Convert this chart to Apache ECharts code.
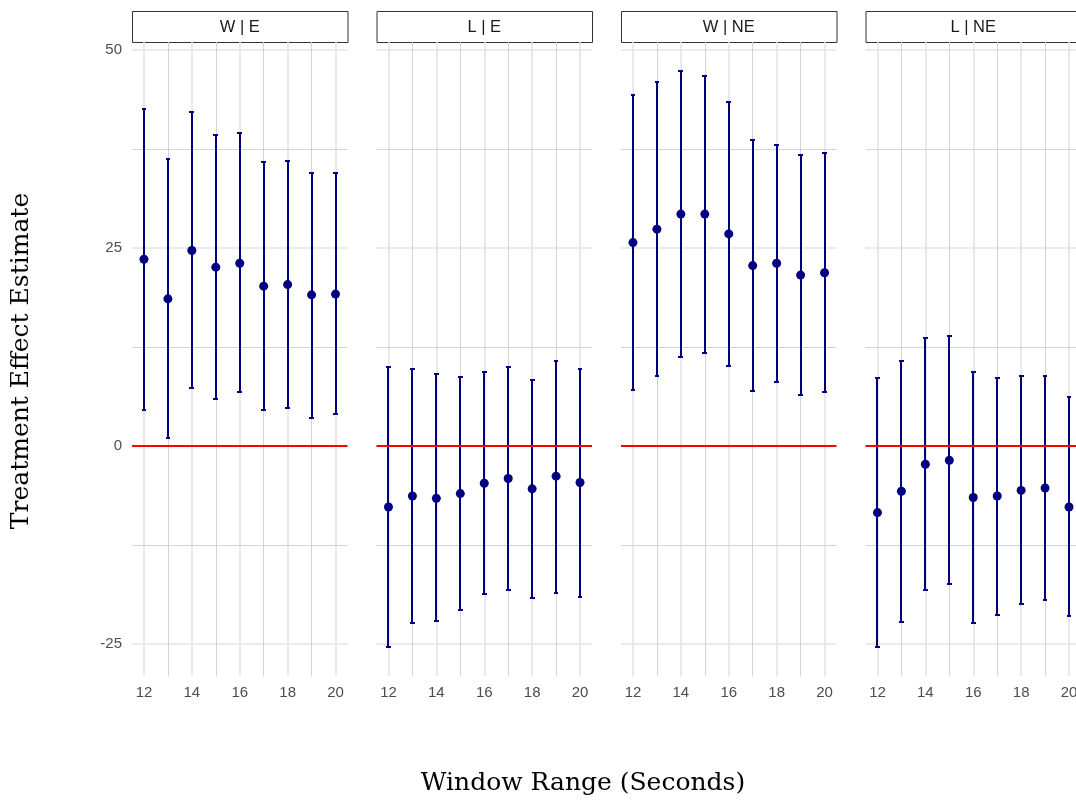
<!DOCTYPE html>
<html>
<head>
<meta charset="utf-8">
<script src="https://cdn.jsdelivr.net/npm/echarts@6/dist/echarts.min.js"></script>
<style>
html,body{margin:0;padding:0;background:#fff;overflow:hidden;width:1076px;height:803px;}
#chart{width:1090px;height:803px;}
</style>
</head>
<body>
<div id="chart"></div>
<script>
// ---- data ----
const windows = [12, 13, 14, 15, 16, 17, 18, 19, 20];
const panelNames = ['W | E', 'L | E', 'W | NE', 'L | NE'];

const estWE = [23.6, 18.6, 24.7, 22.6, 23.1, 20.2, 20.4, 19.1, 19.2];
const loWE  = [4.5, 1.0, 7.4, 6.0, 6.8, 4.5, 4.8, 3.6, 4.0];
const hiWE  = [42.6, 36.3, 42.2, 39.3, 39.5, 35.9, 36.0, 34.5, 34.5];

const estLE = [-7.7, -6.3, -6.6, -6.0, -4.7, -4.1, -5.4, -3.8, -4.6];
const loLE  = [-25.4, -22.4, -22.1, -20.7, -18.7, -18.2, -19.2, -18.5, -19.1];
const hiLE  = [10.0, 9.7, 9.05, 8.75, 9.3, 10.0, 8.4, 10.8, 9.8];

const estWNE = [25.7, 27.4, 29.3, 29.3, 26.8, 22.8, 23.1, 21.6, 21.9];
const loWNE  = [7.1, 8.8, 11.2, 11.8, 10.1, 7.0, 8.1, 6.4, 6.8];
const hiWNE  = [44.3, 46.0, 47.4, 46.8, 43.5, 38.6, 38.0, 36.8, 37.0];

const estLNE = [-8.4, -5.7, -2.3, -1.8, -6.5, -6.3, -5.6, -5.3, -7.7];
const loLNE  = [-25.4, -22.2, -18.2, -17.4, -22.3, -21.3, -20.0, -19.4, -21.5];
const hiLNE  = [8.6, 10.8, 13.6, 13.9, 9.3, 8.6, 8.9, 8.8, 6.2];

const xMajorTicks = [12, 14, 16, 18, 20];
const xMinorTicks = [13, 15, 17, 19];
const yMajorTicks = [-25, 0, 25, 50];
const yMinorTicks = [-12.5, 12.5, 37.5];
const refLine = 0;

const panelData = [
  {est: estWE, lo: loWE, hi: hiWE},
  {est: estLE, lo: loLE, hi: hiLE},
  {est: estWNE, lo: loWNE, hi: hiWNE},
  {est: estLNE, lo: loLNE, hi: hiLNE}
];

// ---- layout / style ----
const PANEL_LEFT0 = 132, PANEL_STEP = 244.5, PANEL_W = 215.5;
const PANEL_TOP = 42, PANEL_H = 634;
const STRIP_TOP = 11, STRIP_H = 31;
const X_MIN = 11.5, X_MAX = 20.5, Y_MIN = -29.04, Y_MAX = 51.04;
const CAP_HALF = 0.1;
const NAVY = '#000080';
const MAJOR_GRID = '#e4e4e4', MINOR_GRID = '#d4d4d4';
const TICK_COLOR = '#4d4d4d';
const SANS = '"Liberation Sans", Arial, sans-serif';
const SERIF = '"DejaVu Serif", serif';

const chart = echarts.init(document.getElementById('chart'), null, {renderer: 'canvas'});

const grids = [], xAxes = [], yAxes = [], series = [], graphics = [];

panelNames.forEach((name, p) => {
  const left = PANEL_LEFT0 + p * PANEL_STEP;
  grids.push({left: left, top: PANEL_TOP, width: PANEL_W, height: PANEL_H, containLabel: false});
  xAxes.push({
    type: 'value', gridIndex: p, min: X_MIN, max: X_MAX,
    axisLine: {show: false},
    axisTick: {show: false, customValues: xMajorTicks},
    axisLabel: {show: true, customValues: xMajorTicks, color: TICK_COLOR, fontSize: 15, fontFamily: SANS, margin: 9},
    splitLine: {show: true, lineStyle: {color: MAJOR_GRID, width: 1.6}}
  });
  yAxes.push({
    type: 'value', gridIndex: p, min: Y_MIN, max: Y_MAX,
    axisLine: {show: false},
    axisTick: {show: false, customValues: yMajorTicks},
    axisLabel: {show: p === 0, customValues: yMajorTicks, color: TICK_COLOR, fontSize: 15, fontFamily: SANS, margin: 10},
    splitLine: {show: true, lineStyle: {color: MAJOR_GRID, width: 1.6}}
  });

  const d = panelData[p];
  // minor gridlines
  series.push({
    type: 'line', xAxisIndex: p, yAxisIndex: p, data: [], silent: true, z: 0,
    markLine: {
      z: 0, silent: true, symbol: ['none', 'none'], label: {show: false}, animation: false,
      lineStyle: {color: MINOR_GRID, width: 1, type: 'solid'},
      data: xMinorTicks.map(v => ({xAxis: v})).concat(yMinorTicks.map(v => ({yAxis: v})))
    }
  });
  // zero reference line (drawn above the error bars)
  series.push({
    type: 'line', xAxisIndex: p, yAxisIndex: p, data: [], silent: true, z: 5,
    markLine: {
      z: 5, silent: true, symbol: ['none', 'none'], label: {show: false}, animation: false,
      lineStyle: {color: '#ff0000', width: 2, type: 'solid'},
      data: [{yAxis: refLine}]
    }
  });
  // error bars
  series.push({
    type: 'custom', xAxisIndex: p, yAxisIndex: p, z: 3,
    data: windows.map((w, i) => [w, d.lo[i], d.hi[i]]),
    renderItem: function (params, api) {
      const x = api.value(0), lo = api.value(1), hi = api.value(2);
      const cx = Math.round(api.coord([x, lo])[0]);
      const yLo = Math.round(api.coord([x, lo])[1]);
      const yHi = Math.round(api.coord([x, hi])[1]);
      const xl = Math.round(api.coord([x - CAP_HALF, lo])[0]);
      const xr = Math.round(api.coord([x + CAP_HALF, lo])[0]);
      const st = {stroke: NAVY, lineWidth: 2};
      return {type: 'group', children: [
        {type: 'line', shape: {x1: cx, y1: yLo, x2: cx, y2: yHi}, style: st},
        {type: 'line', shape: {x1: xl, y1: yLo, x2: xr, y2: yLo}, style: st},
        {type: 'line', shape: {x1: xl, y1: yHi, x2: xr, y2: yHi}, style: st}
      ]};
    },
    animation: false
  });
  // point estimates
  series.push({
    type: 'scatter', xAxisIndex: p, yAxisIndex: p, z: 4,
    data: windows.map((w, i) => [w, d.est[i]]),
    symbol: 'circle', symbolSize: 9,
    itemStyle: {color: NAVY, opacity: 1},
    animation: false
  });

  // facet strip
  graphics.push({
    type: 'rect', left: left, top: STRIP_TOP,
    shape: {width: PANEL_W, height: STRIP_H},
    style: {fill: '#ffffff', stroke: '#333333', lineWidth: 1}
  });
  graphics.push({
    type: 'text', x: left + PANEL_W / 2, y: STRIP_TOP + STRIP_H / 2 + 0.5,
    style: {text: name, fill: '#1a1a1a', font: '16.5px ' + SANS, textAlign: 'center', textVerticalAlign: 'middle'}
  });
});

graphics.push({
  type: 'text', x: 583, y: 783,
  style: {text: 'Window Range (Seconds)', fill: '#000', font: '25px ' + SERIF, textAlign: 'center', textVerticalAlign: 'middle'}
});
graphics.push({
  type: 'text', x: 21, y: 361, rotation: Math.PI / 2,
  style: {text: 'Treatment Effect Estimate', fill: '#000', font: '25px ' + SERIF, textAlign: 'center', textVerticalAlign: 'middle'}
});

chart.setOption({
  animation: false,
  backgroundColor: '#ffffff',
  grid: grids,
  xAxis: xAxes,
  yAxis: yAxes,
  series: series,
  graphic: graphics
});
</script>
</body>
</html>
